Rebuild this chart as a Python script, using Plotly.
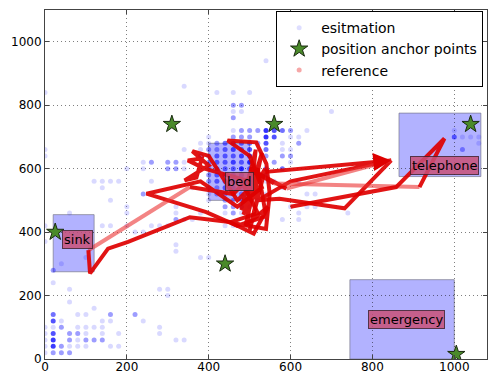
import plotly.graph_objects as go

# ---------------- data ----------------
# estimation points: rows of a 20-unit grid, with overlap counts
est_row_y = [20, 40, 60, 80, 100, 120, 140, 160, 180, 200, 220, 240, 280, 300, 320, 340, 360, 370,
             400, 420, 440, 460, 480, 500, 520, 540, 560, 580, 600, 620, 640, 660, 680, 700, 720,
             760, 780, 800, 840, 860, 940]
est_row_x = [
    [0, 20, 40, 60],
    [0, 20, 40, 60, 80, 100, 160, 180],
    [0, 20, 60, 80, 100, 120, 140, 320, 340],
    [0, 20, 60, 80, 100, 140, 180, 280],
    [0, 20, 40, 80, 100, 120, 140, 280],
    [20, 40, 140, 160, 240],
    [20, 80, 100, 160, 220],
    [120],
    [60],
    [300],
    [60, 280, 300],
    [20],
    [20],
    [40],
    [100, 380, 400],
    [320],
    [320],
    [0],
    [220, 240],
    [0, 140, 160, 200, 260, 280, 300, 440, 460, 520],
    [320, 340, 360, 540, 580, 620],
    [60, 200, 320, 380, 440, 460, 480, 540, 620, 740],
    [200, 320, 440, 460, 480, 500, 600, 640, 660],
    [160, 400, 440, 460, 480, 520],
    [240, 400, 420, 440, 460, 480, 500, 540, 640, 660],
    [140, 360, 400, 420, 440, 460, 480, 500, 580],
    [120, 140, 160, 180, 260, 400, 420, 440, 460, 480, 500, 540, 560, 620],
    [400, 420, 440, 460, 480, 500, 540],
    [200, 240, 300, 320, 340, 400, 420, 440, 460, 480, 500, 540, 580],
    [240, 260, 300, 320, 340, 400, 420, 440, 460, 480, 500, 560, 600],
    [0, 380, 400, 420, 440, 460, 480, 500, 540, 580, 600],
    [0, 340, 380, 400, 420, 440, 460, 480, 500, 540, 580, 600, 1020],
    [380, 400, 420, 440, 460, 480, 500, 520, 540, 580, 620, 1060],
    [400, 460, 480, 500, 540, 560, 600, 620, 1000, 1020, 1040, 1060],
    [460, 480, 500, 520, 540, 560, 580, 600, 640, 1000],
    [460],
    [460, 480, 700],
    [460, 480],
    [0, 420, 460, 500],
    [340],
    [540],
]
est_row_n = [
    [1, 3, 3, 3],
    [1, 9, 3, 1, 1, 1, 1, 1],
    [1, 9, 3, 1, 3, 3, 3, 1, 1],
    [1, 7, 3, 3, 1, 1, 1, 1],
    [1, 1, 3, 1, 1, 1, 1, 1],
    [7, 1, 1, 1, 1],
    [5, 1, 1, 3, 3],
    [1],
    [1],
    [1],
    [1, 1, 1],
    [1],
    [3],
    [1],
    [1, 1, 1],
    [1],
    [1],
    [1],
    [1, 1],
    [1, 1, 1, 1, 1, 1, 1, 1, 1, 1],
    [3, 1, 1, 1, 1, 1],
    [1, 1, 1, 1, 1, 3, 1, 1, 1, 1],
    [1, 1, 3, 3, 3, 1, 1, 1, 1],
    [1, 1, 3, 3, 3, 1],
    [3, 1, 3, 3, 3, 3, 1, 1, 1, 1],
    [1, 1, 3, 3, 5, 5, 3, 3, 1],
    [1, 1, 1, 1, 1, 3, 5, 5, 5, 5, 3, 1, 1, 1],
    [3, 5, 5, 5, 5, 5, 3],
    [1, 1, 3, 3, 1, 3, 5, 5, 5, 10, 5, 5, 5],
    [1, 3, 3, 3, 1, 3, 5, 5, 7, 5, 10, 3, 1],
    [1, 3, 3, 5, 5, 5, 7, 10, 3, 3, 3],
    [1, 1, 1, 3, 3, 5, 7, 5, 7, 5, 1, 1, 3],
    [1, 1, 3, 5, 5, 5, 5, 3, 7, 1, 3, 1],
    [1, 3, 3, 3, 10, 7, 1, 1, 5, 1, 1, 1],
    [1, 3, 3, 3, 10, 7, 5, 3, 1, 1],
    [3],
    [1, 1, 1],
    [3, 3],
    [1, 1, 1, 1],
    [1],
    [1],
]

# position anchor points
anchor_x = [25, 310, 560, 440, 1040, 1005]
anchor_y = [400, 740, 740, 300, 740, 15]

# reference trajectory
ref_x = [480, 520, 450, 540, 549, 541, 516, 446, 500, 530, 470, 380, 248, 394, 470, 540, 520, 460,
         354, 106, 110, 154, 203, 354, 451, 510, 545,
         490, 530, 485, 525, 500, 538, 480, 515, 495,
         500, 390, 349, 383, 370, 341, 400, 360, 400,
         470, 540, 846, 600, 520, 573, 732, 846, 590, 500, 560, 915, 976, 858, 600]
ref_y = [560, 460, 430, 410, 520, 615, 683, 689, 640, 540, 480, 560, 521, 463, 420, 450, 600, 520,
         542, 343, 270, 348, 369, 447, 432, 395, 480,
         420, 650, 455, 545, 405, 600, 470, 660, 430,
         560, 600, 626, 632, 572, 563, 610, 655, 640,
         500, 590, 626, 560, 500, 505, 475, 626, 537, 600, 553, 542, 695, 542, 480]
ref_fast_segments = [18, 52, 55]        # fast (sparse, faded) steps
ref_arrow_points = [47, 52, 57]         # points where an arrow head is visible

# rooms
room_names = ["sink", "bed", "telephone", "emergency"]
room_x0 = [20, 400, 865, 745]
room_x1 = [120, 500, 1065, 1000]
room_y0 = [275, 500, 575, 0]
room_y1 = [455, 680, 775, 250]
room_label_x = [79, 476, 975, 884]
room_label_y = [376, 558, 610, 126]

# ---------------- figure ----------------
fig = go.Figure()

# estimation points
ex, ey, eo = [], [], []
for yv, xs, ns in zip(est_row_y, est_row_x, est_row_n):
    for xv, nv in zip(xs, ns):
        ex.append(xv)
        ey.append(yv)
        eo.append(1 - (1 - 0.15) ** nv)
fig.add_trace(go.Scatter(x=ex, y=ey, mode="markers", showlegend=False, hoverinfo="skip",
                         marker=dict(size=5, color="rgb(0,0,255)", opacity=eo, line=dict(width=0))))

# reference path, grouped into runs of equal style
runs = []
for i in range(len(ref_x) - 1):
    fast = i in ref_fast_segments
    if runs and runs[-1][0] == fast and runs[-1][2] == i:
        runs[-1][2] = i + 1
    else:
        runs.append([fast, i, i + 1])
for fast, a, b in runs:
    fig.add_trace(go.Scatter(
        x=ref_x[a:b + 1], y=ref_y[a:b + 1], mode="lines", showlegend=False, hoverinfo="skip",
        line=dict(color="rgba(235,50,50,0.6)" if fast else "rgba(222,0,0,0.92)", width=4)))

# arrow heads
for p in ref_arrow_points:
    x1, y1 = ref_x[p], ref_y[p]
    x0, y0 = ref_x[p - 1], ref_y[p - 1]
    fig.add_annotation(x=x1, y=y1, ax=x1 - 0.08 * (x1 - x0), ay=y1 - 0.08 * (y1 - y0),
                       xref="x", yref="y", axref="x", ayref="y", text="", showarrow=True,
                       arrowhead=2, arrowsize=0.9, arrowwidth=4, arrowcolor="rgb(222,0,0)", standoff=0)

star = dict(symbol="star", size=13, color="#4a8a2a", line=dict(color="#1a2a10", width=1))

# anchors
fig.add_trace(go.Scatter(x=anchor_x, y=anchor_y, mode="markers", showlegend=False, hoverinfo="skip",
                         marker=star))

# legend entries
fig.add_trace(go.Scatter(x=[None], y=[None], mode="markers", name="esitmation",
                         marker=dict(size=5, color="rgba(0,0,255,0.13)")))
fig.add_trace(go.Scatter(x=[None], y=[None], mode="markers", name="position anchor points",
                         marker=star))
fig.add_trace(go.Scatter(x=[None], y=[None], mode="markers", name="reference",
                         marker=dict(size=5, color="rgba(235,60,60,0.45)")))

# rooms
for name, x0, x1, y0, y1, lx, ly in zip(room_names, room_x0, room_x1, room_y0, room_y1,
                                         room_label_x, room_label_y):
    fig.add_shape(type="rect", x0=x0, x1=x1, y0=y0, y1=y1, layer="below",
                  fillcolor="rgba(0,0,255,0.3)", line=dict(color="rgba(120,120,140,0.7)", width=1))
    fig.add_annotation(x=lx, y=ly, text=name, showarrow=False,
                       font=dict(family="DejaVu Sans", size=13, color="black"),
                       bgcolor="rgba(200,80,120,0.85)", bordercolor="rgba(60,30,40,0.8)",
                       borderwidth=1, borderpad=1)

axis_common = dict(showline=True, linecolor="#444", linewidth=1, mirror="ticks",
                   ticks="inside", ticklen=4, tickcolor="#444", automargin=False,
                   showgrid=True, gridcolor="rgba(0,0,0,0.5)", griddash="1px,3px", gridwidth=1,
                   zeroline=False, tickfont=dict(family="DejaVu Sans", size=12, color="black"))

fig.update_layout(
    width=488, height=375,
    margin=dict(l=45, r=1, t=10, b=16, autoexpand=False),
    paper_bgcolor="white", plot_bgcolor="white",
    xaxis=dict(range=[0, 1080], tickvals=[0, 200, 400, 600, 800, 1000], ticklabelstandoff=-3,
               **axis_common),
    yaxis=dict(range=[0, 1100], tickvals=[0, 200, 400, 600, 800, 1000], **axis_common),
    legend=dict(x=0.523, y=0.997, xanchor="left", yanchor="top",
                bgcolor="white", bordercolor="black", borderwidth=1,
                font=dict(family="DejaVu Sans", size=14, color="black"),
                itemwidth=34, tracegroupgap=0),
    showlegend=True,
)

fig.write_html("out.html", config={"displayModeBar": False},
               post_script="document.body.style.margin='0px';document.body.style.overflow='hidden';")
